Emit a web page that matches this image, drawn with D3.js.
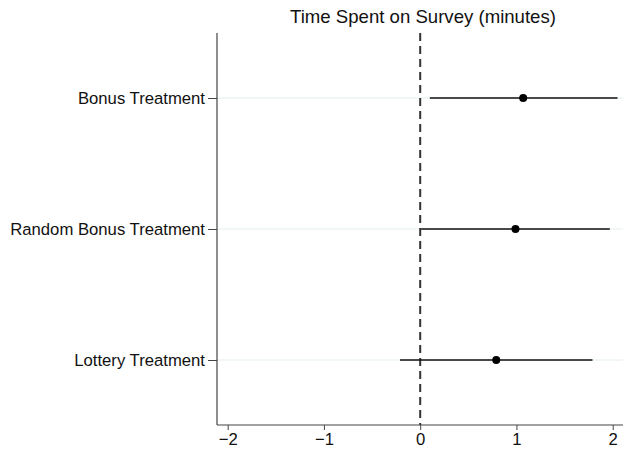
<!DOCTYPE html>
<html>
<head>
<meta charset="utf-8">
<script src="https://cdn.jsdelivr.net/npm/d3@7"></script>
<style>
  body { margin: 0; background: #fff; }
  svg { font-family: "Liberation Sans", Arial, sans-serif; }
</style>
</head>
<body>
<svg width="625" height="454"></svg>
<script>
const treatments = ['Bonus Treatment', 'Random Bonus Treatment', 'Lottery Treatment'];
const estimates = [1.07, 0.99, 0.79];
const lower = [0.10, 0.01, -0.21];
const upper = [2.05, 1.97, 1.79];
const xTicks = [-2, -1, 0, 1, 2];

(() => {
    const svg = d3.select('svg');
    const plotLeft = 217, plotRight = 623, plotTop = 33, plotBottom = 425;

    const x = d3.scaleLinear().domain([-2, 2]).range([227.7, 612.7]);
    const y = d3.scalePoint().domain(treatments).range([98, 360]);

    const rows = treatments.map((t, i) => ({
        name: t, est: estimates[i], lo: lower[i], hi: upper[i]
    }));

    // grid lines
    svg.append('g')
        .selectAll('line')
        .data(treatments)
        .enter().append('line')
        .attr('x1', plotLeft).attr('x2', plotRight)
        .attr('y1', d => y(d)).attr('y2', d => y(d))
        .attr('stroke', '#e2eded')
        .attr('stroke-width', 1);

    // zero line
    svg.append('line')
        .attr('x1', x(0)).attr('x2', x(0))
        .attr('y1', plotTop).attr('y2', plotBottom)
        .attr('stroke', '#333')
        .attr('stroke-width', 2)
        .attr('stroke-dasharray', '8,5');

    // x axis
    const xAxis = svg.append('g')
        .attr('transform', `translate(0,${plotBottom})`)
        .call(d3.axisBottom(x).tickValues(xTicks).tickSize(5).tickPadding(3)
            .tickFormat(d => d < 0 ? '\u2212' + Math.abs(d) : d));
    xAxis.select('.domain').remove();
    xAxis.append('line')
        .attr('x1', plotLeft).attr('x2', plotRight)
        .attr('stroke', '#444').attr('stroke-width', 1.2);
    xAxis.selectAll('.tick line').attr('stroke', '#444');
    xAxis.selectAll('.tick text')
        .attr('fill', '#111')
        .style('font-size', '16.7px')
        .style('font-family', '"Liberation Sans", Arial, sans-serif');

    // y axis
    const yAxis = svg.append('g')
        .attr('transform', `translate(${plotLeft},0)`)
        .call(d3.axisLeft(y).tickSize(9).tickPadding(3));
    yAxis.select('.domain').remove();
    yAxis.append('line')
        .attr('y1', plotTop).attr('y2', plotBottom)
        .attr('stroke', '#444').attr('stroke-width', 1.2);
    yAxis.selectAll('.tick line').attr('stroke', '#444');
    yAxis.selectAll('.tick text')
        .attr('fill', '#111')
        .style('font-size', '16.7px')
        .style('font-family', '"Liberation Sans", Arial, sans-serif');

    // confidence intervals
    svg.append('g')
        .selectAll('line')
        .data(rows)
        .enter().append('line')
        .attr('x1', d => x(d.lo)).attr('x2', d => x(d.hi))
        .attr('y1', d => y(d.name)).attr('y2', d => y(d.name))
        .attr('stroke', '#111')
        .attr('stroke-width', 1.6);

    // point estimates
    svg.append('g')
        .selectAll('circle')
        .data(rows)
        .enter().append('circle')
        .attr('cx', d => x(d.est))
        .attr('cy', d => y(d.name))
        .attr('r', 4)
        .attr('fill', '#000');

    // title
    svg.append('text')
        .attr('x', 423)
        .attr('y', 23)
        .attr('text-anchor', 'middle')
        .attr('fill', '#111')
        .style('font-size', '18.6px')
        .text('Time Spent on Survey (minutes)');
})();
</script>
</body>
</html>
